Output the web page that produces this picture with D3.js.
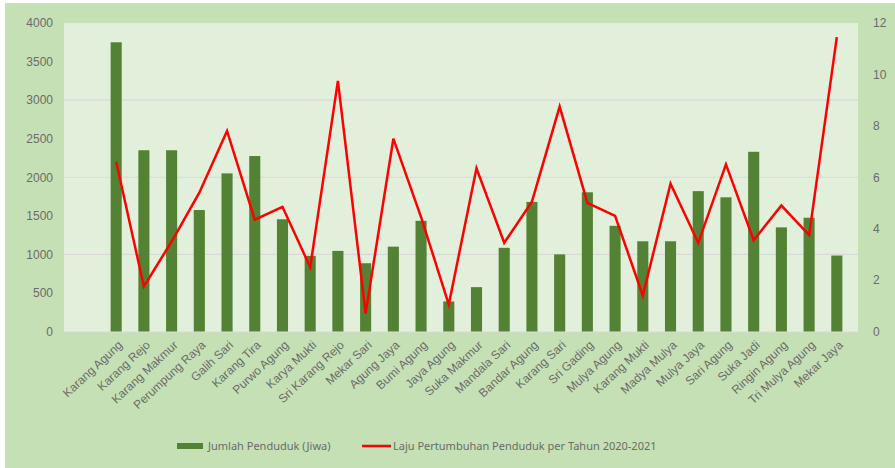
<!DOCTYPE html>
<html>
<head>
<meta charset="utf-8">
<script src="https://cdn.jsdelivr.net/npm/d3@7"></script>
<style>
  body { margin: 0; background: #fff; }
  svg { display: block; font-family: "Noto Sans", "DejaVu Sans", sans-serif; }
</style>
</head>
<body>
<div id="chart"></div>
<script>
// desa names, population bars and growth rate line
var villages = ['Karang Agung', 'Karang Rejo', 'Karang Makmur', 'Perumpung Raya', 'Galih Sari',
  'Karang Tira', 'Purwo Agung', 'Karya Mukti', 'Sri Karang Rejo', 'Mekar Sari', 'Agung Jaya',
  'Bumi Agung', 'Jaya Agung', 'Suka Makmur', 'Mandala Sari', 'Bandar Agung', 'Karang Sari',
  'Sri Gading', 'Mulya Agung', 'Karang Mukti', 'Madya Mulya', 'Mulya Jaya', 'Sari Agung',
  'Suka Jadi', 'Ringin Agung', 'Tri Mulya Agung', 'Mekar Jaya'];

var penduduk = [3750, 2350, 2350, 1575, 2050, 2275, 1455, 980, 1045, 885, 1100,
  1435, 390, 575, 1085, 1680, 1000, 1805, 1370, 1170, 1170, 1820, 1740,
  2330, 1350, 1475, 985];

var laju = [6.6, 1.75, 3.5, 5.4, 7.8, 4.35, 4.85, 2.5, 9.75, 0.7, 7.5,
  4.45, 1.05, 6.35, 3.45, 5.05, 8.75, 5.0, 4.5, 1.4, 5.75, 3.45, 6.5,
  3.55, 4.9, 3.75, 11.45];

var leftTicks = [0, 500, 1000, 1500, 2000, 2500, 3000, 3500, 4000];
var rightTicks = [0, 2, 4, 6, 8, 10, 12];
var gridTicks = [1000, 2000, 3000];

var width = 895, height = 468;
var plotLeft = 64, plotRight = 858, plotTop = 23, plotBottom = 332;
var textColor = '#6b6b6b';

var svg = d3.select('#chart').append('svg')
  .attr('width', width)
  .attr('height', height);

// outer chart area
svg.append('rect')
  .attr('x', 5).attr('y', 3)
  .attr('width', width - 5).attr('height', height - 3)
  .style('fill', '#c5e0b4');

svg.append('rect')
  .attr('x', plotLeft).attr('y', plotTop)
  .attr('width', plotRight - plotLeft).attr('height', plotBottom - plotTop)
  .style('fill', '#e2efda');

var x = d3.scaleBand()
  .domain(villages)
  .range([94, 859])
  .padding(0.6);

var yLeft = d3.scaleLinear().domain([0, 4000]).range([331.5, 23]);
var yRight = d3.scaleLinear().domain([0, 12]).range([331.5, 23]);

// grid lines
svg.selectAll('line.grid').data(gridTicks)
  .enter().append('line')
    .attr('class', 'grid')
    .attr('x1', plotLeft).attr('x2', plotRight)
    .attr('y1', function (d) { return yLeft(d); })
    .attr('y2', function (d) { return yLeft(d); })
    .style('stroke', '#d9d9d9')
    .style('stroke-width', 1.2);

svg.append('line')
  .attr('x1', plotLeft).attr('x2', plotRight)
  .attr('y1', plotBottom).attr('y2', plotBottom)
  .style('stroke', '#d9d9d9')
  .style('stroke-width', 1.2);

// bars
svg.selectAll('rect.bar').data(penduduk)
  .enter().append('rect')
    .attr('class', 'bar')
    .attr('x', function (d, i) { return x(villages[i]); })
    .attr('width', x.bandwidth())
    .attr('y', function (d) { return yLeft(d); })
    .attr('height', function (d) { return yLeft(0) - yLeft(d); })
    .style('fill', '#548235');

// growth line
var line = d3.line()
  .x(function (d, i) { return x(villages[i]) + x.bandwidth() / 2; })
  .y(function (d) { return yRight(d); });

svg.append('path')
  .datum(laju)
  .attr('d', line)
  .style('fill', 'none')
  .style('stroke', '#ff0000')
  .style('stroke-width', 2.5)
  .style('stroke-linejoin', 'miter');

// axes
var leftAxis = d3.axisLeft(yLeft).tickValues(leftTicks).tickFormat(d3.format('d'))
  .tickSize(0).tickPadding(0);
var gl = svg.append('g').attr('transform', 'translate(53,0)').call(leftAxis);
gl.select('.domain').remove();
gl.selectAll('text')
  .style('font-size', '12px')
  .style('fill', textColor);

var rightAxis = d3.axisRight(yRight).tickValues(rightTicks).tickFormat(d3.format('d'))
  .tickSize(0).tickPadding(0);
var gr = svg.append('g').attr('transform', 'translate(873,0)').call(rightAxis);
gr.select('.domain').remove();
gr.selectAll('text')
  .style('font-size', '12px')
  .style('fill', textColor);

var bottomAxis = d3.axisBottom(x).tickSize(0).tickPadding(0);
var gb = svg.append('g').attr('transform', 'translate(0,' + plotBottom + ')').call(bottomAxis);
gb.select('.domain').remove();
gb.selectAll('text')
  .style('font-size', '12px')
  .style('fill', textColor)
  .style('text-anchor', 'end')
  .attr('dx', 0).attr('dy', 0)
  .attr('transform', 'translate(7,14) rotate(-43)');

// legend
var legend = svg.append('g').attr('transform', 'translate(0,446)');
legend.append('rect')
  .attr('x', 177).attr('y', -3)
  .attr('width', 26).attr('height', 6)
  .style('fill', '#548235');
legend.append('text')
  .attr('x', 208).attr('y', 4)
  .style('font-size', '11px').style('fill', textColor)
  .text('Jumlah Penduduk (Jiwa)');
legend.append('line')
  .attr('x1', 362).attr('x2', 391)
  .attr('y1', 0).attr('y2', 0)
  .style('stroke', '#ff0000').style('stroke-width', 2.5);
legend.append('text')
  .attr('x', 393).attr('y', 4)
  .style('font-size', '11px').style('fill', textColor)
  .text('Laju Pertumbuhan Penduduk per Tahun 2020-2021');
</script>
</body>
</html>
